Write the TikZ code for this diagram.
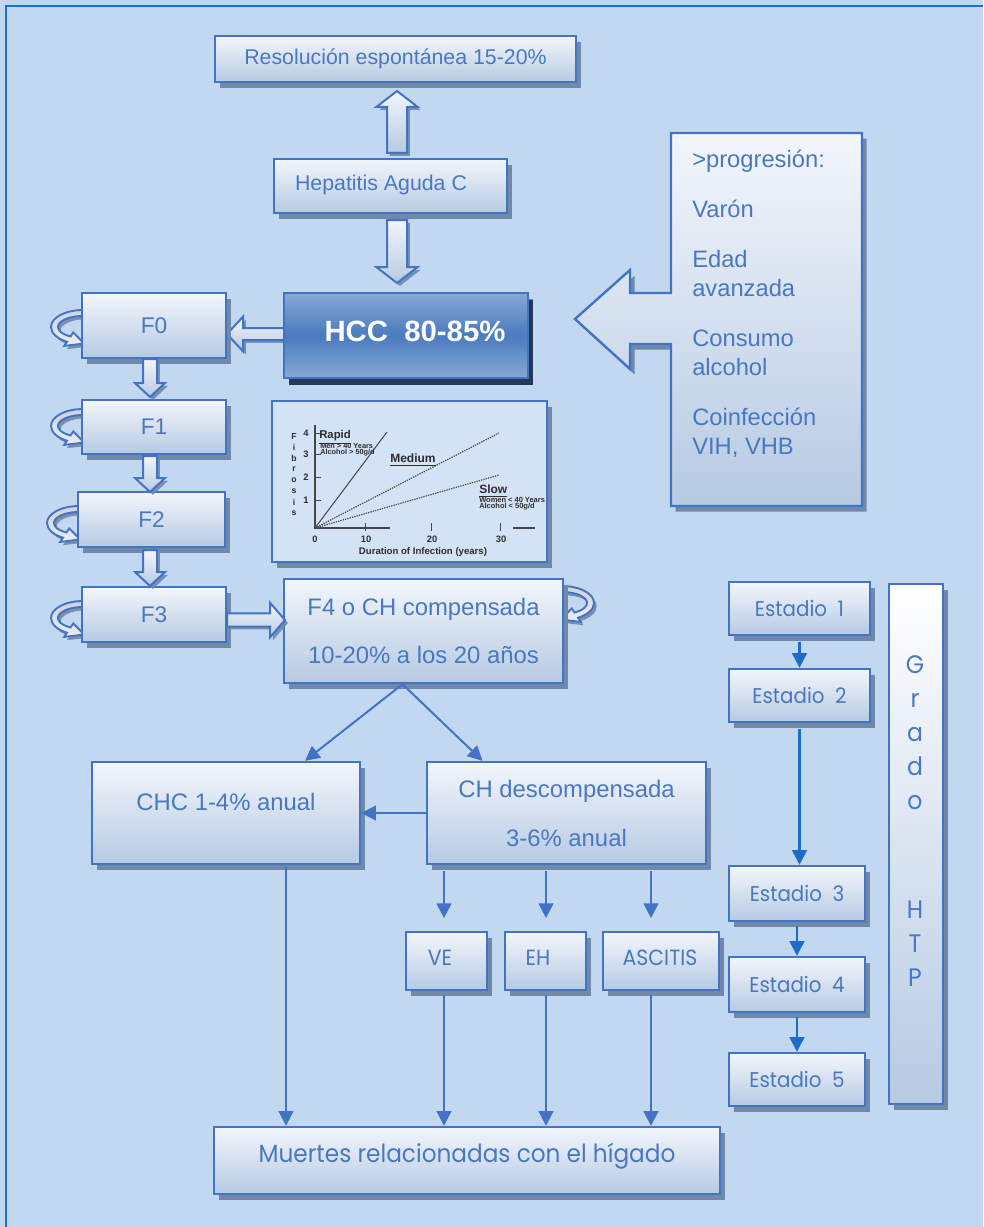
\documentclass[tikz,border=0pt]{standalone}
\usepackage{fontspec}
\setmainfont{Liberation Sans}
\newfontfamily\geo[FakeStretch=0.93]{Poppins}
\usetikzlibrary{calc,shadows,arrows.meta}

\definecolor{pagebg}{HTML}{C2D8F0}
\definecolor{framec}{HTML}{1D6FD0}
\definecolor{edge}{HTML}{4472C4}
\definecolor{ink}{HTML}{4A78C0}
\definecolor{shade}{HTML}{7089A8}
\definecolor{topc}{HTML}{F3F6FB}
\definecolor{botc}{HTML}{B6CAE3}
\definecolor{hcclight}{HTML}{88A9D5}
\definecolor{hccdark}{HTML}{4A7BBE}
\definecolor{hccshade}{HTML}{23395A}
\definecolor{plotbg}{HTML}{D3E2F5}
\definecolor{stagec}{HTML}{1C6CCB}
\definecolor{curlfill}{HTML}{CDD3DC}
\definecolor{plotink}{HTML}{2E2E2E}

\newcommand\fsz[2]{\fontsize{#1}{#2}\selectfont}

% rectangle node given by its corners (x1,y1)-(x2,y2): [options]{name}{x1}{y1}{x2}{y2}{text}
\newcommand\rectbox[7][]{%
  \pgfmathsetmacro\rbw{0.75*(#5-#3)}%
  \pgfmathsetmacro\rbh{0.75*(#6-#4)}%
  \node[box, minimum width=\rbw pt, minimum height=\rbh pt, #1] (#2) at ({(#3+#5)/2},{(#4+#6)/2}) {#7};}

% broad outlined arrow from #1 to #2; shaft half-width #3, head half-width #4, head length #5
\newcommand\fatarrow[5]{%
  \coordinate (fa-h) at ($(#2)!#5!(#1)$);
  \draw[broad] ($(#1)!#3!90:(#2)$) -- ($(fa-h)!#3!-90:(#1)$) -- ($(fa-h)!#4!-90:(#1)$)
     -- (#2) -- ($(fa-h)!#4!90:(#1)$) -- ($(fa-h)!#3!90:(#1)$) -- ($(#1)!#3!-90:(#2)$) -- cycle;}

% ribbon arrow looping back into a box side; #1 = anchor point, #2 = 1 (left side) or -1 (right side)
\newcommand\selfloop[2]{%
  \begin{scope}[shift={(#1)}, xscale=#2]
    \draw[loopband] (0,-17) arc[start angle=-90, end angle=-240, x radius=32, y radius=17]
      -- (-18.8,18.9) -- (1.1,16.5) -- (-9.7,5.4)
      -- (-12.5,9.5) arc[start angle=-240, end angle=-90, x radius=25, y radius=11] -- cycle;
  \end{scope}}

\begin{document}
\begin{tikzpicture}[x=0.75pt,y=-0.75pt,
  box/.style={draw=edge, line width=1.8pt, inner sep=0pt, top color=topc, bottom color=botc, text=ink,
     drop shadow={shadow xshift=3.5pt, shadow yshift=-4.2pt, opacity=1, fill=shade}},
  broad/.style={draw=edge, line width=1.5pt, top color=topc, bottom color=botc,
     drop shadow={shadow xshift=2.2pt, shadow yshift=-2.2pt, opacity=0.9, fill=shade}},
  loopband/.style={draw=edge, line width=1.4pt, top color=curlfill, bottom color=white!60!curlfill,
     drop shadow={shadow xshift=2pt, shadow yshift=-2.5pt, opacity=0.9, fill=shade}},
  conn/.style={draw=edge, line width=1.5pt, -{Triangle[length=11pt,width=11pt]}},
  stage/.style={draw=stagec, line width=1.9pt, -{Triangle[length=11pt,width=11pt]}},
  lbl/.style={text=ink, inner sep=0pt},
  plt/.style={inner sep=0pt, text=plotink},
  axisline/.style={draw=gray!55!black, line width=0.9pt}
]
% page and frame
\fill[pagebg] (0,0) rectangle (983,1227);
\useasboundingbox (0,0) rectangle (983,1227);
\draw[framec, line width=2pt] (6,1227) -- (6,6) -- (983,6);

% ---------- top chain ----------
\rectbox[font=\fsz{16}{19}]{res}{215}{36}{576}{82}{Resolución espontánea 15-20\%}
\rectbox{hep}{274}{159}{507}{213}{}
\node[lbl, font=\fsz{16}{19}] (hep-t) at (381,185) {Hepatitis Aguda C};

\coordinate (u1) at (397,153); \coordinate (u2) at (397,91);
\fatarrow{u1}{u2}{7.5pt}{15.5pt}{12pt}
\coordinate (d1) at (397,220); \coordinate (d2) at (397,283);
\fatarrow{d1}{d2}{7.5pt}{15.5pt}{12pt}

% fibrosis stages with their loops
\selfloop{$(83,327)$}{1}
\selfloop{$(83,426)$}{1}
\selfloop{$(79,523)$}{1}
\selfloop{$(83,618)$}{1}
\selfloop{$(562,603)$}{-1}

\coordinate (h1) at (284,334); \coordinate (h2) at (227,334);
\fatarrow{h1}{h2}{4.5pt}{13pt}{12pt}

\rectbox[top color=hcclight, bottom color=hcclight, middle color=hccdark,
      drop shadow={shadow xshift=4pt, shadow yshift=-5pt, opacity=1, fill=hccshade}]{hcc}{284}{293}{528}{378}{}
\node[text=white, inner sep=0pt, font=\bfseries\fsz{22}{26}] (hcc-t) at (415,331) {HCC\ \ 80-85\%};

\rectbox[font=\fsz{17}{20}]{f0}{82}{293}{226}{358}{F0}
\rectbox[font=\fsz{17}{20}]{f1}{82}{400}{226}{454}{F1}
\rectbox[font=\fsz{17}{20}]{f2}{78}{492}{225}{547}{F2}
\rectbox[font=\fsz{17}{20}]{f3}{82}{587}{226}{642}{F3}
\rectbox[align=center, font=\fsz{17.9}{21.5}]{f4}{284}{579}{563}{683}{F4 o CH compensada\\[14.5pt]10-20\% a los 20 años}

\coordinate (s01) at (150,359); \coordinate (e01) at (150,397);
\fatarrow{s01}{e01}{5.25pt}{11.25pt}{10.5pt}
\coordinate (s12) at (150,456); \coordinate (e12) at (150,492);
\fatarrow{s12}{e12}{5.25pt}{11.25pt}{10.5pt}
\coordinate (s23) at (150,550); \coordinate (e23) at (150,586);
\fatarrow{s23}{e23}{5.25pt}{11.25pt}{10.5pt}
\coordinate (s34) at (227,620); \coordinate (e34) at (285,620);
\fatarrow{s34}{e34}{4.9pt}{13pt}{11.25pt}

% ---------- progression factors ----------
\draw[box] (671,133) -- (862,133) -- (862,506) -- (671,506) -- (671,344) -- (630,344) -- (630,369)
  -- (575,319) -- (630,270) -- (630,293) -- (671,293) -- cycle;
\node[lbl, anchor=north west, align=left, font=\fsz{17.8}{21.7}] (prog-t) at (692,150)
  {>progresión:\\[15.7pt]Varón\\[15.7pt]Edad\\avanzada\\[15.7pt]Consumo\\alcohol\\[15.7pt]Coinfección\\VIH, VHB};

% ---------- fibrosis progression chart ----------
\rectbox[fill=plotbg, line width=1.3pt, top color=plotbg, bottom color=plotbg, drop shadow={opacity=0}]{plot}{272}{401}{547}{562}{}
\draw[axisline] (315,425) -- (315,528) -- (390,528);
\draw[axisline] (513,528) -- (535,528);
\foreach \yy/\lab in {433/4,454/3,477/2,500/1}{
  \draw[axisline, line width=0.7pt] (315,\yy) -- (321,\yy);
  \node[plt, font=\bfseries\fsz{7}{8}] (ytick\lab) at (306,\yy) {\lab};
}
\foreach \xx in {365.5,431,500}
  \draw[axisline, line width=0.7pt] (\xx,523) -- (\xx,531);
\foreach \xx/\lab in {315/0,366/10,432/20,501/30}
  \node[plt, font=\bfseries\fsz{7}{8}] (xlab\lab) at (\xx,539) {\lab};
\foreach \c [count=\i] in {F,i,b,r,o,s,i,s}
  \node[plt, font=\bfseries\fsz{6.5}{7}] (fib\i) at (294,426+10.9*\i) {\c};
\draw[gray!60!black, line width=0.8pt] (315,528) -- (387,432);
\draw[gray!60!black, line width=0.9pt, dash pattern=on 1pt off 0.8pt] (315,528) -- (499,433);
\draw[gray!60!black, line width=0.9pt, dash pattern=on 1pt off 0.8pt] (315,528) -- (499,475);
\node[plt, anchor=west, font=\bfseries\fsz{8.5}{9}] (rapid) at (319,437) {\underline{Rapid}};
\node[plt, anchor=west, font=\bfseries\fsz{5.5}{6}] (rapid-a) at (320,446) {Men > 40 Years};
\node[plt, anchor=west, font=\bfseries\fsz{5.5}{6}] (rapid-b) at (320,453) {Alcohol > 50g/d};
\node[plt, anchor=west, font=\bfseries\fsz{9}{10}] (medium) at (390,460) {\underline{Medium}};
\node[plt, anchor=west, font=\bfseries\fsz{9}{10}] (slow) at (479,491) {\underline{Slow}};
\node[plt, anchor=west, font=\bfseries\fsz{5.6}{6}] (slow-a) at (479,500) {Women < 40 Years};
\node[plt, anchor=west, font=\bfseries\fsz{5.6}{6}] (slow-b) at (479,507) {Alcohol < 50g/d};
\node[plt, font=\bfseries\fsz{7.2}{8}] (durlab) at (423,552) {Duration of Infection (years)};

% ---------- outcomes ----------
\rectbox{chc}{92}{762}{360}{864}{}
\node[lbl, font=\fsz{17.9}{21.5}] (chc-t) at (226,802) {CHC 1-4\% anual};
\rectbox[align=center, font=\fsz{17.9}{21.5}]{chd}{427}{762}{706}{864}{CH descompensada\\[15.2pt]3-6\% anual}

\rectbox{ve}{406}{932}{487}{990}{}
\rectbox{eh}{505}{932}{586}{990}{}
\rectbox{asc}{603}{932}{719}{990}{}
\node[lbl, font=\geo\fsz{16.5}{19}] (ve-t) at (440,958) {VE};
\node[lbl, font=\geo\fsz{16.5}{19}] (eh-t) at (538,958) {EH};
\node[lbl, font=\geo\fsz{16.5}{19}] (asc-t) at (660,958) {ASCITIS};

\rectbox{mue}{214}{1127}{720}{1194}{}
\node[lbl, font=\geo\fsz{18.7}{22}] (mue-t) at (467,1156) {Muertes relacionadas con el hígado};

\coordinate (split) at ($(f4.south)+(-21,0)$);
\draw[conn] (split) -- ($(chc.north)+(79,0)$);
\draw[conn] (split) -- ($(chd.north)+(-84,0)$);
\draw[conn] (chd.west) -- (chc.east);

\coordinate (dVE) at (444,871);
\coordinate (dEH) at (546,871);
\coordinate (dAS) at (651,871);
\coordinate (dCH) at (286,867);
\foreach \p/\n in {dVE/ve,dEH/eh,dAS/asc}{
  \draw[conn, shorten >=9.5pt] (\p) -- (\p |- \n.north);
  \draw[conn, shorten <=3pt] (\p |- \n.south) -- (\p |- mue.north);
}
\draw[conn] (dCH) -- (dCH |- mue.north);

% ---------- portal hypertension grade ----------
\rectbox[top color=white, bottom color=botc]{grado}{889}{584}{943}{1104}{}
\node[lbl, align=center, font=\geo\fsz{19}{25.5}] (grado-t) at (915,821) {G\\r\\a\\d\\o\\[56pt]H\\T\\P};

\rectbox[font=\geo\fsz{16}{19}]{e1}{729}{582}{870}{635}{Estadio\ \ 1}
\rectbox[font=\geo\fsz{16}{19}]{e2}{729}{669}{870}{722}{Estadio\ \ 2}
\rectbox[font=\geo\fsz{16}{19}]{e3}{729}{866}{865}{921}{Estadio\ \ 3}
\rectbox[font=\geo\fsz{16}{19}]{e4}{729}{957}{865}{1012}{Estadio\ \ 4}
\rectbox[font=\geo\fsz{16}{19}]{e5}{729}{1053}{865}{1106}{Estadio\ \ 5}

\draw[stage, shorten <=4pt] (e1.south) -- (e2.north);
\draw[stage, shorten <=4pt] (e2.south) -- (e2.south |- e3.north);
\draw[stage, shorten <=3pt] (e3.south) -- (e4.north);
\draw[stage, shorten <=3pt] (e4.south) -- (e5.north);
\end{tikzpicture}
\end{document}
